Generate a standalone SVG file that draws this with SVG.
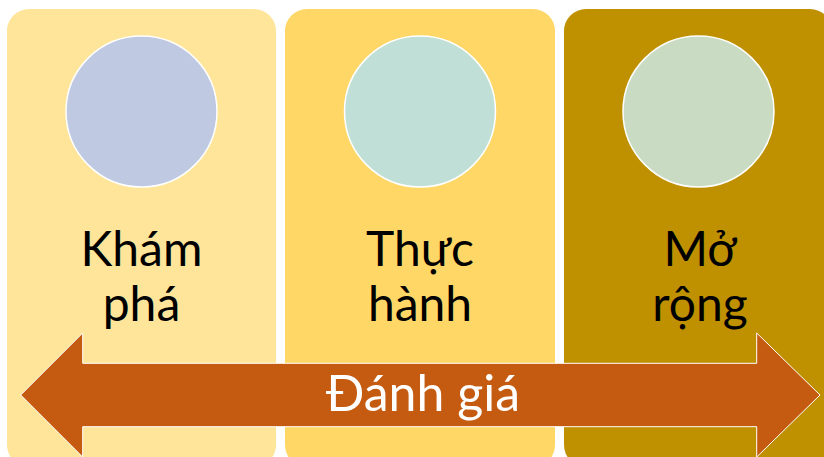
<svg xmlns="http://www.w3.org/2000/svg" width="824" height="457" viewBox="0 0 824 457">
<style>
.panel{stroke:none}
.circ{stroke:#ffffff;stroke-width:1.5}
.lbl{font-family:Lato,"Open Sans","Liberation Sans",sans-serif;font-size:48px;fill:#000000;text-anchor:middle}
.alb{font-family:Lato,"Open Sans","Liberation Sans",sans-serif;font-size:50px;fill:#ffffff;text-anchor:middle}
</style>
<rect width="824" height="457" fill="#ffffff"/>
<g id="node-khampha">
<rect class="panel" x="7" y="9" width="269" height="458" rx="22" fill="#FEE599"/>
<circle class="circ" cx="141.5" cy="111.5" r="75.5" fill="#BFC9E2"/>
<text class="lbl" x="141.5" y="266">Khám</text>
<text class="lbl" x="141.5" y="321">phá</text>
</g>
<g id="node-thuchanh">
<rect class="panel" x="285" y="9" width="270" height="458" rx="22" fill="#FED766"/>
<circle class="circ" cx="420" cy="111.5" r="75.5" fill="#C0DFD7"/>
<text class="lbl" x="420" y="266">Thực</text>
<text class="lbl" x="420" y="321">hành</text>
</g>
<g id="node-morong">
<rect class="panel" x="564" y="9" width="268" height="458" rx="22" fill="#BF9000"/>
<circle class="circ" cx="698.5" cy="111.5" r="75.5" fill="#C9DCC3"/>
<text class="lbl" x="700" y="266">Mở</text>
<text class="lbl" x="700" y="321">rộng</text>
</g>
<g id="connectors">
<g id="node-danhgia">
<path d="M20.7,395 L82.7,333 L82.7,363.3 L756.7,363.3 L756.7,333 L820,395 L756.7,457 L756.7,426.7 L82.7,426.7 L82.7,457 Z" fill="#C55A11" stroke="#ffffff" stroke-width="1"/>
<text class="alb" x="423" y="411">Đánh giá</text>
</g>
</g>
</svg>
